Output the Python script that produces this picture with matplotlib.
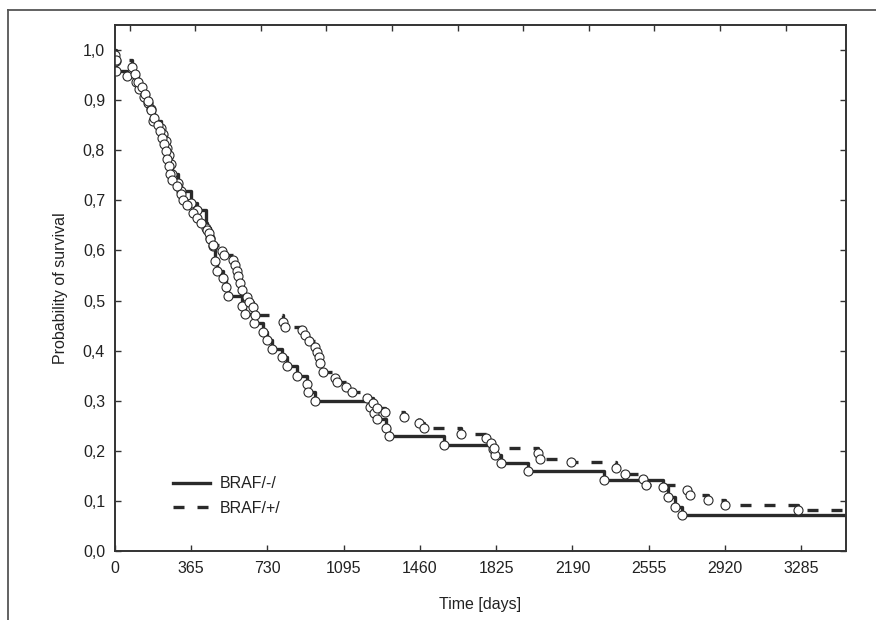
import matplotlib
matplotlib.use("Agg")
import matplotlib.pyplot as plt
from matplotlib.lines import Line2D

plt.rcParams['font.family'] = ['Liberation Sans', 'DejaVu Sans']

# Kaplan-Meier steps, BRAF/-/  (day, survival after the event)
neg_days = [0, 4, 8, 60, 100, 115, 140, 158, 172, 185, 220, 232, 244, 252, 260,
            268, 276, 305, 315, 365, 395, 437, 455, 468, 480, 490, 520, 533, 541,
            608, 621, 665, 711, 727, 751, 799, 823, 871, 918, 925, 960, 1220,
            1240, 1253, 1300, 1312, 1574, 1810, 1820, 1850, 1975, 2340, 2625,
            2645, 2683, 2712]
neg_surv = [1.0, 0.978, 0.958, 0.948, 0.935, 0.921, 0.905, 0.895, 0.882, 0.858,
            0.845, 0.832, 0.818, 0.805, 0.790, 0.772, 0.752, 0.735, 0.718, 0.695,
            0.680, 0.645, 0.625, 0.608, 0.578, 0.558, 0.545, 0.527, 0.510, 0.489,
            0.473, 0.455, 0.438, 0.421, 0.403, 0.387, 0.369, 0.350, 0.333, 0.318,
            0.300, 0.288, 0.275, 0.263, 0.245, 0.229, 0.212, 0.203, 0.192, 0.175,
            0.159, 0.142, 0.129, 0.109, 0.089, 0.072]

# Kaplan-Meier steps, BRAF/+/
pos_days = [0, 2, 5, 82, 95, 110, 130, 145, 160, 175, 190, 205, 215, 225, 235,
            245, 252, 258, 266, 275, 300, 315, 325, 345, 375, 395, 415, 440, 453,
            458, 472, 515, 522, 568, 576, 584, 592, 600, 608, 632, 640, 663, 671,
            803, 815, 894, 910, 931, 959, 967, 975, 983, 996, 1054, 1065, 1107,
            1134, 1206, 1238, 1257, 1294, 1386, 1456, 1480, 1655, 1774, 1800,
            1815, 2026, 2034, 2182, 2397, 2440, 2528, 2544, 2740, 2753, 2839,
            2918, 3269]
pos_surv = [1.0, 0.99, 0.98, 0.965, 0.952, 0.935, 0.925, 0.912, 0.898, 0.880,
            0.865, 0.850, 0.838, 0.825, 0.812, 0.798, 0.782, 0.768, 0.752, 0.740,
            0.728, 0.712, 0.700, 0.690, 0.675, 0.665, 0.655, 0.640, 0.635, 0.622,
            0.610, 0.598, 0.590, 0.581, 0.571, 0.558, 0.548, 0.535, 0.521, 0.508,
            0.498, 0.488, 0.472, 0.457, 0.447, 0.441, 0.431, 0.420, 0.408, 0.398,
            0.388, 0.375, 0.358, 0.345, 0.338, 0.328, 0.317, 0.306, 0.296, 0.285,
            0.277, 0.267, 0.256, 0.245, 0.234, 0.226, 0.215, 0.206, 0.195, 0.184,
            0.177, 0.166, 0.154, 0.143, 0.132, 0.123, 0.113, 0.103, 0.093, 0.082]

x_ticks = [0, 365, 730, 1095, 1460, 1825, 2190, 2555, 2920, 3285]
y_ticks = [0.0, 0.1, 0.2, 0.3, 0.4, 0.5, 0.6, 0.7, 0.8, 0.9, 1.0]
y_labels = ['0,0', '0,1', '0,2', '0,3', '0,4', '0,5', '0,6', '0,7', '0,8', '0,9', '1,0']
top_ticks = [72, 386, 700, 1013, 1327, 1641, 1955, 2268, 2582, 2896, 3210]
x_end = 3500

line_col = '#2a2a2a'

fig = plt.figure(figsize=(8.76, 6.2), dpi=100)
ax = fig.add_axes([0.131, 0.111, 0.835, 0.849])

# extend curves to the end of follow-up
ax.step(neg_days + [x_end], neg_surv + [neg_surv[-1]], where='post',
        color=line_col, lw=2.4, label='BRAF/-/', zorder=2)
ax.step(pos_days + [x_end], pos_surv + [pos_surv[-1]], where='post',
        color=line_col, lw=2.4, dashes=(3.3, 3.9), label='BRAF/+/', zorder=2)

ax.plot(neg_days[1:], neg_surv[1:], 'o', ms=6.5, mfc='white', mec=line_col,
        mew=0.8, zorder=3)
ax.plot(pos_days[1:], pos_surv[1:], 'o', ms=6.5, mfc='white', mec=line_col,
        mew=0.8, zorder=3)

ax.set_xlim(0, x_end)
ax.set_ylim(0, 1.05)
ax.set_xticks(x_ticks)
ax.set_yticks(y_ticks)
ax.set_yticklabels(y_labels)
ax.tick_params(direction='in', length=4, width=1, colors='#333333',
               labelsize=11.5, labelcolor='#222222', right=True, pad=7)

ax_top = ax.twiny()
ax_top.set_xlim(0, x_end)
ax_top.set_xticks(top_ticks)
ax_top.tick_params(direction='in', length=4, width=1, colors='#333333',
                   labeltop=False)

for a in (ax, ax_top):
    for s in a.spines.values():
        s.set_color('#333333')
        s.set_linewidth(1.2)

ax.set_xlabel('Time [days]', fontsize=11.5, color='#222222', labelpad=15)
ax.set_ylabel('Probability of survival', fontsize=11.5, color='#222222', labelpad=11)

leg = ax.legend(loc='lower left', bbox_to_anchor=(0.06, 0.04), frameon=False,
                fontsize=11.5, handlelength=2.3, handletextpad=0.6,
                labelspacing=0.6)
for t in leg.get_texts():
    t.set_color('#222222')

# outer frame lines (top and left)
fig.add_artist(Line2D([8 / 876, 8 / 876], [0, 1 - 10 / 620], color='#555555', lw=1.3))
fig.add_artist(Line2D([8 / 876, 1], [1 - 10 / 620, 1 - 10 / 620], color='#555555', lw=1.3))

fig.savefig('out.png', dpi=100)
